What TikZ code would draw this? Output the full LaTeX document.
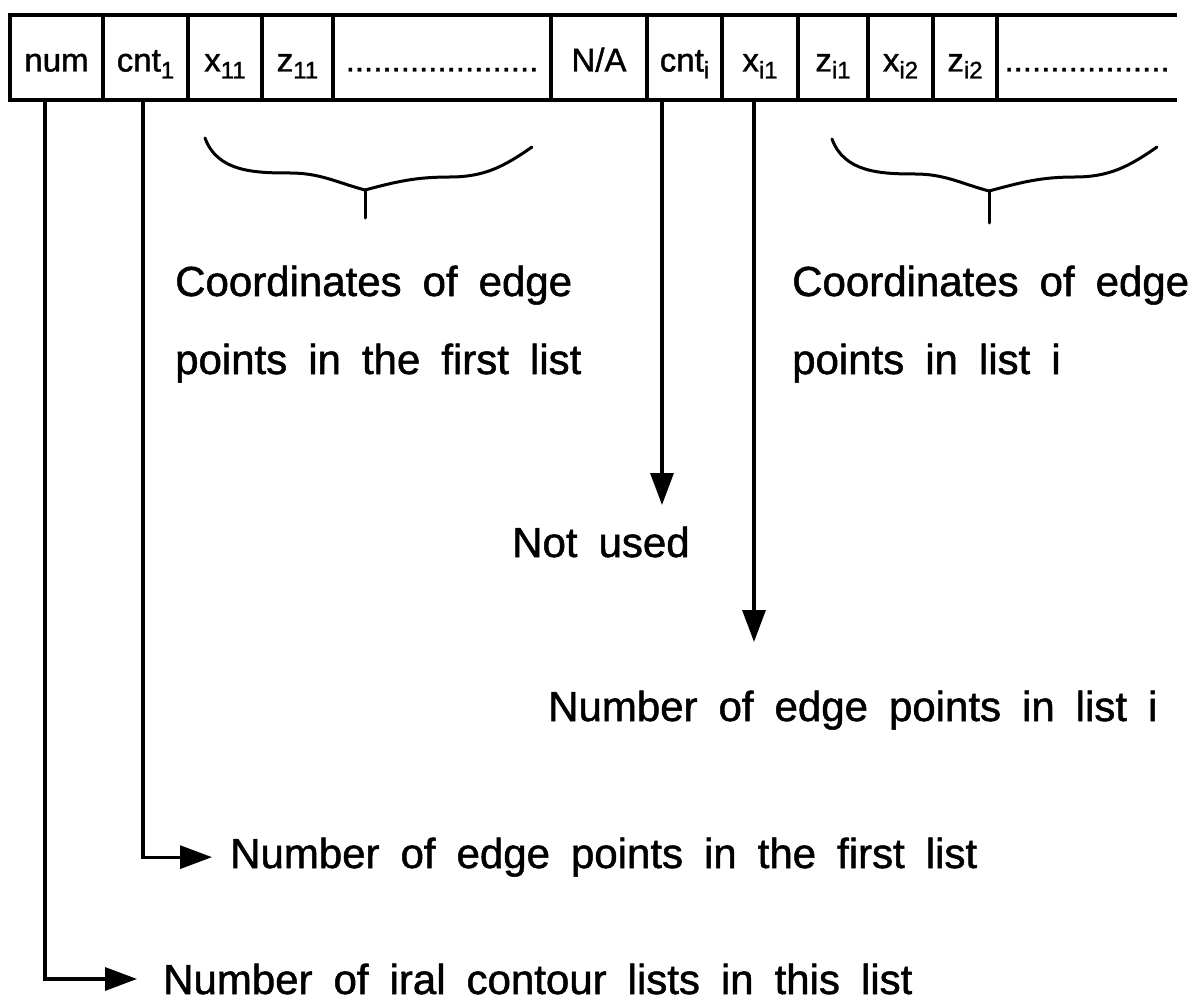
\documentclass[tikz,border=0pt]{standalone}
\usepackage{fontspec}
\setmainfont{Liberation Sans}[RawFeature={embolden=1.2}]
\usetikzlibrary{arrows.meta}

\newcommand\idx[1]{\raisebox{-7pt}{\fontsize{24}{24}\selectfont #1}}
\newcommand\widespace{\spaceskip=21pt\relax}

\tikzset{
  cell/.style={rectangle, line width=3.2pt, inner sep=0pt, outer sep=0pt,
    minimum height=85pt, text height=28pt, text depth=0pt,
    font=\fontsize{33}{36}\selectfont},
  note/.style={anchor=base west, inner sep=0pt,
    font=\fontsize{42}{48}\selectfont, execute at begin node=\widespace},
  link/.style={line width=3.2pt, -{Triangle[length=32pt,width=23pt]}},
  brace/.style={line width=3pt, line join=round, line cap=round}
}

\begin{document}
\begin{tikzpicture}[x=1pt, y=-1pt]
  \useasboundingbox (0,0) rectangle (1192,1003);

      \begin{scope}[every node/.style={cell, draw}]
        \node[minimum width=93pt]  (num)  at (56.5,57.5)  {num};
        \node[minimum width=85pt]  (cnt1) at (145.5,57.5) {cnt\idx{1}};
        \node[minimum width=74pt]  (x11)  at (225,57.5)   {x\idx{11}};
        \node[minimum width=71pt]  (z11)  at (297.5,57.5) {z\idx{11}};
        \node[minimum width=218pt] (dots1) at (442,57.5)  {.....................};
        \node[minimum width=96pt]  (na)   at (599,57.5)   {N/A};
        \node[minimum width=75pt]  (cnti) at (684.5,57.5) {cnt\idx{i}};
        \node[minimum width=76pt]  (xi1)  at (760,57.5)   {x\idx{i1}};
        \node[minimum width=70pt]  (zi1)  at (833,57.5)   {z\idx{i1}};
        \node[minimum width=65pt]  (xi2)  at (900.5,57.5) {x\idx{i2}};
        \node[minimum width=64pt]  (zi2)  at (965,57.5)   {z\idx{i2}};
      \end{scope}
      \node[cell, minimum width=180pt] (dots2) at (1087,57.5) {..................};
      \draw[line width=3.2pt] (zi2.north east) -- (dots2.north east)
                              (zi2.south east) -- (dots2.south east);

      \draw[brace] (205,138) to[out=-70,in=180] (290,173) to[out=0,in=165] (365,190)
                   to[out=15,in=180] (450,177) to[out=0,in=-145] (532,147);
      \draw[brace] (365,190) -- (365,218);
      \draw[brace] (832,139) to[out=-70,in=180] (915,174) to[out=0,in=165] (989,191)
                   to[out=15,in=180] (1075,177) to[out=0,in=-145] (1157,147);
      \draw[brace] (989,191) -- (989,223);

      \begin{scope}[every node/.style={note}]
        \node (first1)  at (175,296) {Coordinates of edge};
        \node (first2)  at (175,374) {points in the first list};
        \node (listi1)  at (792,296) {Coordinates of edge};
        \node (listi2)  at (792,374) {points in list i};
        \node (notused) at (512,557) {Not used};
        \node (cntitxt) at (548,721) {Number of edge points in list i};
        \node (cnt1txt) at (230,868) {Number of edge points in the first list};
        \node (numtxt)  at (163,994) {Number of iral contour lists in this list};
      \end{scope}

      \coordinate (unused) at (662,505);
      \coordinate (count)  at (754,642);

      \begin{scope}[every path/.style={link}]
        \draw (cnti.south -| unused) -- (unused);
        \draw (xi1.south -| count) -- (count);
        \draw ([xshift=-2.5pt]cnt1.south) |- ([xshift=-18pt]cnt1txt.west);
        \draw ([xshift=-11.5pt]num.south) |- ([xshift=-26pt]numtxt.west);
      \end{scope}

    \end{tikzpicture}
\end{document}
